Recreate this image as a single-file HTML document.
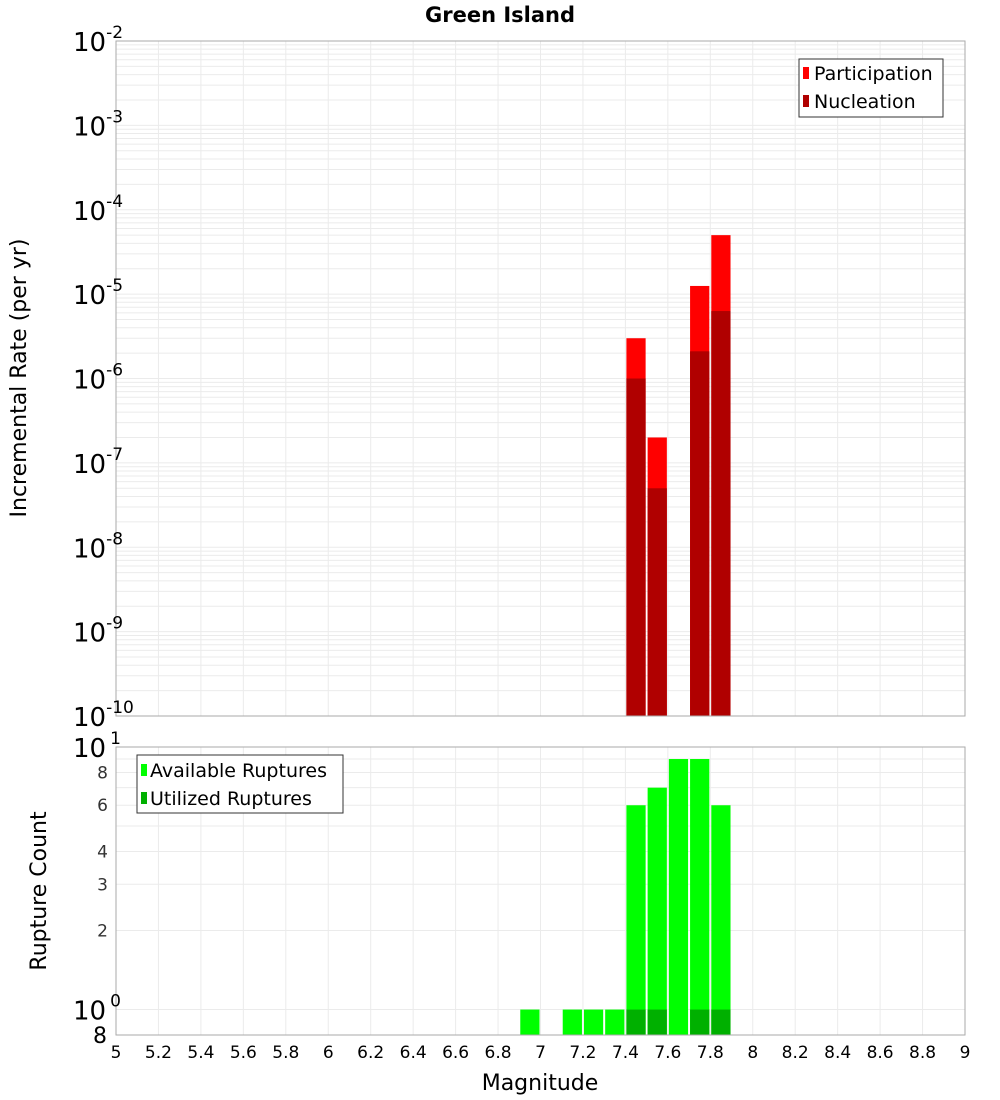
<!DOCTYPE html>
<html><head><meta charset="utf-8"><style>
body{margin:0;background:#fff;}
svg{display:block;font-family:"DejaVu Sans","Liberation Sans",sans-serif;}
</style></head><body>
<svg id="c" width="1000" height="1100" xmlns="http://www.w3.org/2000/svg">
<text x="500" y="22" text-anchor="middle" font-size="21" font-weight="bold">Green Island</text>
<g id="top"></g>
<g id="bot"></g>
<text transform="translate(26,378) rotate(-90)" text-anchor="middle" font-size="22">Incremental Rate (per yr)</text>
<text transform="translate(46,891) rotate(-90)" text-anchor="middle" font-size="22">Rupture Count</text>
<text x="540" y="1090" text-anchor="middle" font-size="22">Magnitude</text>
<g>
<rect x="799" y="59" width="144" height="58" fill="#fff" stroke="#333" stroke-width="1"/>
<rect x="803" y="67" width="6" height="12" fill="#ff0000"/>
<text x="814" y="80" font-size="19">Participation</text>
<rect x="803" y="95" width="6" height="12" fill="#b00000"/>
<text x="814" y="108" font-size="19">Nucleation</text>
</g>
<g>
<rect x="137" y="755" width="206" height="58" fill="#fff" stroke="#333" stroke-width="1"/>
<rect x="141" y="764" width="6" height="12" fill="#00ff00"/>
<text x="150" y="777" font-size="19">Available Ruptures</text>
<rect x="141" y="792" width="6" height="12" fill="#00b000"/>
<text x="150" y="805" font-size="19">Utilized Ruptures</text>
</g>
</svg>
<script>
const mags = [6.95, 7.05, 7.15, 7.25, 7.35, 7.45, 7.55, 7.65, 7.75, 7.85];
const participation = [0, 0, 0, 0, 0, 3e-6, 2e-7, 0, 1.25e-5, 5e-5];
const nucleation = [0, 0, 0, 0, 0, 1e-6, 5e-8, 0, 2.1e-6, 6.3e-6];
const available = [1, 0, 1, 1, 1, 6, 7, 9, 9, 6];
const utilized = [0, 0, 0, 0, 0, 1, 1, 0, 1, 1];
const xTicks = ["5","5.2","5.4","5.6","5.8","6","6.2","6.4","6.6","6.8","7","7.2","7.4","7.6","7.8","8","8.2","8.4","8.6","8.8","9"];
const rateExps = [-2,-3,-4,-5,-6,-7,-8,-9,-10];
const countTicks = [2,3,4,6,8];

const NS="http://www.w3.org/2000/svg";
const X0=116,X1=965;
const x=m=>X0+(m-5)/4*(X1-X0);
const T0=41,T1=716;
const yT=v=>T0+(-2-Math.log10(v))/8*(T1-T0);
const B0=747,B1=1035;
const yB=v=>B0+(1-Math.log10(v))/(1-Math.log10(0.8))*(B1-B0);
function mk(tag,attrs,parent){const e=document.createElementNS(NS,tag);for(const k in attrs)e.setAttribute(k,attrs[k]);parent.appendChild(e);return e;}
const gTop=document.getElementById('top'),gBot=document.getElementById('bot');

for(let e=-10;e<-2;e++)for(let k=1;k<10;k++){const yy=yT(k*Math.pow(10,e));
 const l=mk('line',{x1:X0,x2:X1,y1:yy,y2:yy,stroke:'#ebebeb','stroke-width':1},gTop);
 }
for(let k=1;k<=9;k++){const yy=yB(k);
 const l=mk('line',{x1:X0,x2:X1,y1:yy,y2:yy,stroke:'#ebebeb','stroke-width':1},gBot);
 }
xTicks.forEach(t=>{const xx=x(+t);
 [[gTop,T0,T1],[gBot,B0,B1]].forEach(([g,a,b])=>{const l=mk('line',{x1:xx,x2:xx,y1:a,y2:b,stroke:'#ebebeb','stroke-width':1},g);
 });
 const tx=mk('text',{x:xx,y:1058,'text-anchor':'middle','font-size':17},gBot);tx.textContent=t;
 });

const bw=(X1-X0)/40;
mags.forEach((m,i)=>{
 const xl=x(m)-bw/2+1,w=bw-2;
 if(participation[i]>0){const r=mk('rect',{x:xl,y:yT(participation[i]),width:w,height:T1-yT(participation[i]),fill:'#ff0000'},gTop);
  }
 if(nucleation[i]>0){const r=mk('rect',{x:xl,y:yT(nucleation[i]),width:w,height:T1-yT(nucleation[i]),fill:'#b00000'},gTop);
  }
 if(available[i]>0){const r=mk('rect',{x:xl,y:yB(available[i]),width:w,height:B1-yB(available[i]),fill:'#00ff00'},gBot);
  }
 if(utilized[i]>0){const r=mk('rect',{x:xl,y:yB(utilized[i]),width:w,height:B1-yB(utilized[i]),fill:'#00b000'},gBot);
  }
});

const f1=mk('rect',{x:X0,y:T0,width:X1-X0,height:T1-T0,fill:'none',stroke:'#aaa'},gTop);

const f2=mk('rect',{x:X0,y:B0,width:X1-X0,height:B1-B0,fill:'none',stroke:'#aaa'},gBot);


rateExps.forEach(e=>{const yy=yT(Math.pow(10,e));
 const t=mk('text',{x:73,y:yy+10,'font-size':26},gTop);
 
 t.appendChild(document.createTextNode('10'));
 const s=mk('tspan',{dy:-13,'font-size':17},t);s.textContent=String(e);});
[[10,'1'],[1,'0']].forEach(([v,e])=>{const yy=yB(v);
 const t=mk('text',{x:73,y:yy+10,'font-size':26},gBot);
 
 t.appendChild(document.createTextNode('10'));
 const s=mk('tspan',{dy:-13,dx:4,'font-size':17},t);s.textContent=e;});
countTicks.forEach(v=>{const t=mk('text',{x:108,y:yB(v)+6,'text-anchor':'end','font-size':17,fill:'#333'},gBot);
 t.textContent=v;});
const t8=mk('text',{x:107,y:1043,'text-anchor':'end','font-size':22},gBot);t8.textContent='8';

</script>
</body></html>
